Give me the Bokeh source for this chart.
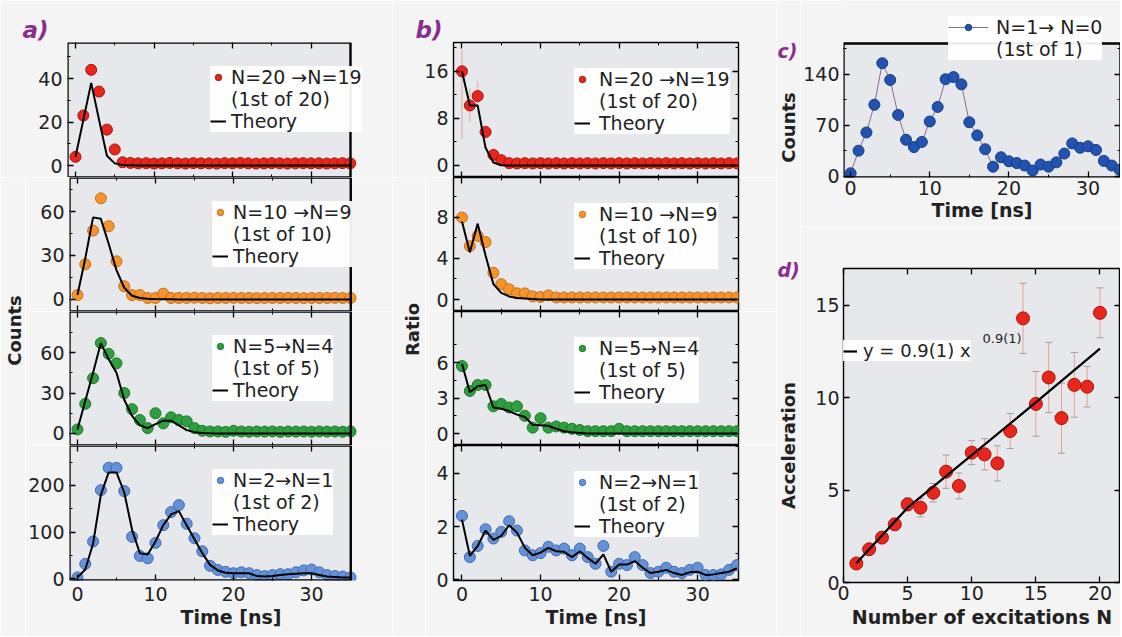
import math
from bokeh.plotting import figure
from bokeh.models import (Range1d, LinearAxis, FixedTicker, Label, Legend, LegendItem,
                          Whisker, TeeHead, ColumnDataSource, BoxAnnotation)
from bokeh.layouts import row, column
from bokeh.embed import file_html
from bokeh.resources import INLINE
from bokeh.core.properties import value

# ---------------- data ----------------
t_ns = list(range(36))

a20_counts = [4, 23, 44, 34, 16.5, 7.4, 1.5, 1.2, 1.0, 1.1, 0.9, 1.0, 1.2, 1.0, 0.9, 1.1, 1.0, 1.0,
              0.9, 1.1, 1.0, 1.2, 1.0, 0.9, 1.0, 1.1, 1.0, 0.9, 1.0, 1.1, 1.0, 1.0, 0.9, 1.0, 1.1, 1.0]
a20_theory = [4, 21, 38, 21, 4.5, 1.0, 0.2, 0.1, 0, 0, 0, 0, 0, 0, 0, 0, 0, 0,
              0, 0, 0, 0, 0, 0, 0, 0, 0, 0, 0, 0, 0, 0, 0, 0, 0, 0]
a10_counts = [3, 24, 47, 69, 50, 26, 9, 3, 3, 1, 1, 4, 1, 1, 1, 1.2, 1, 0.8,
              1, 1, 1.1, 1, 1, 0.9, 1, 1, 1, 1.1, 1, 0.9, 1, 1, 1, 1.1, 1, 1]
a10_theory = [3, 28, 56, 55, 38, 20, 8, 2.5, 1, 0.5, 0.3, 0.2, 0.1, 0, 0, 0, 0, 0,
              0, 0, 0, 0, 0, 0, 0, 0, 0, 0, 0, 0, 0, 0, 0, 0, 0, 0]
a5_counts = [3, 22, 41, 67, 59, 52, 30, 18, 10, 4, 15, 7.5, 12, 10, 9, 4, 2, 1.5,
             1.5, 1.2, 2, 1.5, 1.3, 1.5, 1.4, 1.5, 1.2, 1.5, 1.4, 1.5, 1.3, 1.5, 1.4, 1.5, 1.3, 1.5]
a5_theory = [3, 24, 45, 67, 55, 45, 25, 13, 6, 4, 7, 9.5, 9.5, 6, 2.5, 1, 0.3, 0.1,
             0, 0, 0, 0, 0, 0, 0, 0, 0, 0, 0, 0, 0, 0, 0, 0, 0, 0]
a2_counts = [3, 32, 80, 190, 238, 238, 188, 90, 49, 44, 77, 115, 143, 158, 118, 87, 59, 28,
             19, 15, 12, 14, 12, 8, 6, 8, 10, 10, 14, 18, 20, 14, 8, 6, 5, 3]
a2_theory = [3, 20, 75, 180, 228, 228, 185, 105, 55, 52, 80, 115, 138, 145, 115, 85, 55, 30,
             18, 13, 12, 12, 12, 6, 5, 6, 8, 10, 11, 12, 12, 8, 5, 4, 3, 3]

b20_ratio = [16, 10.2, 11.8, 5.7, 1.8, 0.9, 0.4, 0.35, 0.4, 0.35, 0.4, 0.35, 0.4, 0.35, 0.4, 0.35, 0.4, 0.35,
             0.4, 0.35, 0.4, 0.35, 0.4, 0.35, 0.4, 0.35, 0.4, 0.35, 0.4, 0.35, 0.4, 0.35, 0.4, 0.35, 0.4, 0.35]
b20_theory = [16, 10.2, 10.2, 3.0, 0.5, 0.05, 0, 0, 0, 0, 0, 0, 0, 0, 0, 0, 0, 0,
              0, 0, 0, 0, 0, 0, 0, 0, 0, 0, 0, 0, 0, 0, 0, 0, 0, 0]
b20_err_t = [0, 1, 2, 3]
b20_err_lo = [4.5, 7.4, 9.8, 4.8]
b20_err_hi = [19.6, 13.1, 14.3, 6.6]
b10_ratio = [8.0, 5.2, 6.2, 5.6, 2.6, 1.5, 1.0, 0.6, 0.6, 0.3, 0.25, 0.4, 0.2, 0.2, 0.2, 0.2, 0.2, 0.2,
             0.2, 0.2, 0.2, 0.2, 0.2, 0.2, 0.2, 0.2, 0.2, 0.2, 0.2, 0.2, 0.2, 0.2, 0.2, 0.2, 0.2, 0.2]
b10_theory = [7.6, 4.6, 7.4, 4.3, 1.5, 0.65, 0.3, 0.15, 0.1, 0.05, 0, 0, 0, 0, 0, 0, 0, 0,
              0, 0, 0, 0, 0, 0, 0, 0, 0, 0, 0, 0, 0, 0, 0, 0, 0, 0]
b5_ratio = [5.7, 3.6, 4.1, 4.1, 2.3, 2.5, 2.2, 2.3, 1.5, 0.5, 1.3, 0.5, 0.6, 0.5, 0.4, 0.3, 0.2, 0.2,
            0.2, 0.2, 0.4, 0.2, 0.2, 0.2, 0.2, 0.2, 0.2, 0.2, 0.2, 0.2, 0.2, 0.2, 0.2, 0.2, 0.2, 0.2]
b5_theory = [5.9, 3.5, 4.0, 4.1, 2.2, 2.1, 1.9, 1.6, 1.4, 0.75, 0.7, 0.65, 0.4, 0.2, 0.1, 0.05, 0, 0,
             0, 0, 0, 0, 0, 0, 0, 0, 0, 0, 0, 0, 0, 0, 0, 0, 0, 0]
b2_ratio = [2.4, 0.85, 1.27, 1.9, 1.55, 1.8, 2.2, 1.85, 1.1, 0.92, 1.0, 1.24, 1.1, 1.17, 0.92, 1.17, 0.85, 0.6,
            1.27, 0.3, 0.6, 0.55, 0.85, 0.55, 0.25, 0.3, 0.45, 0.3, 0.25, 0.37, 0.45, 0.18, 0.18, 0.2, 0.37, 0.55]
b2_theory = [2.26, 0.9, 1.27, 1.85, 1.5, 1.65, 2.05, 1.78, 1.2, 0.92, 1.02, 1.2, 1.07, 1.05, 0.85, 1.07, 0.82, 0.6,
             0.95, 0.3, 0.57, 0.57, 0.7, 0.45, 0.25, 0.3, 0.37, 0.25, 0.18, 0.28, 0.3, 0.18, 0.2, 0.25, 0.3, 0.43]

t_c = list(range(35))
c_counts = [4, 35, 60, 98, 155, 132, 84, 50, 40, 47, 75, 95, 133, 136, 126, 74, 56, 37,
            13, 26, 20.5, 18, 14.6, 7.8, 16, 13, 19, 31, 45, 39, 41, 36, 21, 14.6, 8.7]

d_n = list(range(1, 21))
d_acc = [1.03, 1.8, 2.43, 3.15, 4.23, 4.05, 4.86, 6.0, 5.23, 7.03, 6.94, 6.45, 8.2, 14.3, 9.67, 11.1, 8.9,
         10.7, 10.6, 14.6]
d_err = [0.1, 0.2, 0.25, 0.3, 0.35, 0.5, 0.5, 0.9, 0.7, 0.65, 0.85, 0.95, 0.95, 1.9, 1.75, 1.9, 1.9,
         1.75, 1.1, 1.35]
d_fit_n = [1, 5, 10, 15, 20]
d_fit_acc = [1.04, 4.05, 6.9, 9.75, 12.66]

time_ticks = [0, 10, 20, 30]
time_minor = [5, 15, 25]

# ---------------- style ----------------
FONT = "DejaVu Sans"
BORDER = "#f4f4f4"
PLOT_BG = "#e6e8ec"
PURPLE = "#8b2d8e"
TXT = "#222222"
RED, RED_L = "#e8261c", "#a8160e"
ORANGE, ORANGE_L = "#f5932c", "#c9701a"
GREEN, GREEN_L = "#2f9e3e", "#1e7a2c"
BLUE, BLUE_L = "#6592d6", "#3f6db6"
DBLUE, DBLUE_L = "#2353b0", "#173c86"
A_BOX_RIGHT = 35.03     # right edge of the panel-a plot area (frame extends further for legends)
C_BOX_TOP = 182         # top edge of the panel-c plot area (frame extends above for the legend)


def base_fig(w, h, bl, br, bt, bb, xr, yr, outline=True):
    p = figure(width=w, height=h, x_range=Range1d(*xr), y_range=Range1d(*yr),
               output_backend="svg", toolbar_location=None,
               min_border_left=bl, min_border_right=br, min_border_top=bt, min_border_bottom=bb,
               x_axis_type=None, y_axis_type=None,
               background_fill_color=PLOT_BG if outline else BORDER, border_fill_color=BORDER,
               outline_line_color="black" if outline else None, outline_line_width=1.4)
    return p


def add_axis(p, side, ticks, minor, labels, axis_label=None, standoff=5, label_standoff=2):
    ax = LinearAxis(ticker=FixedTicker(ticks=ticks, minor_ticks=minor))
    ax.axis_line_color = None
    ax.major_tick_in = 6
    ax.major_tick_out = 0
    ax.minor_tick_in = 3
    ax.minor_tick_out = 0
    ax.major_tick_line_color = "black"
    ax.major_tick_line_width = 1.3
    ax.minor_tick_line_color = "black"
    ax.minor_tick_line_width = 1
    ax.major_label_text_font = FONT
    ax.major_label_text_color = TXT
    if labels:
        ax.major_label_text_font_size = "19px"
        ax.major_label_standoff = standoff
    else:
        ax.major_label_text_font_size = "0px"
        ax.major_label_standoff = 0
        ax.major_label_overrides = {tk: "" for tk in ticks}
    if axis_label:
        ax.axis_label = axis_label
        ax.axis_label_text_font = FONT
        ax.axis_label_text_font_style = "bold"
        ax.axis_label_text_font_size = "19px"
        ax.axis_label_text_color = TXT
        ax.axis_label_standoff = label_standoff
    p.add_layout(ax, side)


def mids(ticks):
    step = ticks[1] - ticks[0]
    return [tk + step / 2 for tk in ticks]


def plot_area(p, **edges):
    p.add_layout(BoxAnnotation(fill_color=PLOT_BG, fill_alpha=1, line_color=None, level="underlay", **edges))
    p.add_layout(BoxAnnotation(fill_alpha=0, line_color="black", line_alpha=1, line_width=2.4, **edges))


def add_legend(p, items, loc, glyph_width=16, standoff=6, padding=5, label_width=20, size="19px"):
    lg = Legend(items=items, location=loc, orientation="vertical",
                label_text_font=FONT, label_text_font_size=size, label_text_color=TXT,
                glyph_width=glyph_width, glyph_height=16, label_standoff=standoff,
                padding=padding, spacing=0, margin=0, label_height=18, label_width=label_width,
                background_fill_color="white", background_fill_alpha=0.93, border_line_color=None)
    p.add_layout(lg)


def panel_title(p, txt, offset):
    p.title.text = txt
    p.title.align = "left"
    p.title.offset = offset
    p.title.standoff = 0
    p.title.text_font = FONT
    p.title.text_font_style = "bold italic"
    p.title.text_font_size = "23px"
    p.title.text_color = PURPLE


def strip(w, h, labels):
    p = figure(width=w, height=h, x_range=Range1d(0, 1), y_range=Range1d(0, 1),
               output_backend="svg", toolbar_location=None, min_border=0,
               x_axis_type=None, y_axis_type=None, outline_line_color=None,
               background_fill_color=BORDER, border_fill_color=BORDER)
    for txt, x, y, kind in labels:
        if kind == "axis":
            p.add_layout(Label(x=x, y=y, x_units="screen", y_units="screen", text=txt, angle=math.pi / 2,
                               text_font=FONT, text_font_style="bold", text_font_size="18px",
                               text_color=TXT, text_align="center", text_baseline="middle"))
        else:
            p.add_layout(Label(x=x, y=y, x_units="screen", y_units="screen", text=txt,
                               text_font=FONT, text_font_style="bold italic", text_font_size="19px",
                               text_color=PURPLE, text_align="left", text_baseline="middle"))
    return p


def time_panel(w, h, bl, br, bt, bb, xr, yr, yt, counts, theory, col, lcol,
               lab1, lab2, leg, bottom_labels, extended=False, errs=None,
               glyph_width=16, standoff=6, padding=8):
    p = base_fig(w, h, bl, br, bt, bb, xr, yr, outline=not extended)
    if extended:
        plot_area(p, right=A_BOX_RIGHT)
    add_axis(p, "left", yt, mids(yt), True)
    if not extended:
        add_axis(p, "right", yt, mids(yt), False)
    add_axis(p, "above", time_ticks, time_minor, False)
    if bottom_labels:
        add_axis(p, "below", time_ticks, time_minor, True, "Time [ns]", standoff=6, label_standoff=2)
    else:
        add_axis(p, "below", time_ticks, time_minor, False)
    if errs is not None:
        src = ColumnDataSource(dict(t=errs[0], lo=errs[1], hi=errs[2]))
        p.add_layout(Whisker(base="t", lower="lo", upper="hi", source=src,
                             line_color="#e9a39a", line_width=1, upper_head=None, lower_head=None))
    sc = p.scatter(t_ns, counts, size=11, fill_color=col, line_color=lcol, line_width=1)
    ln = p.line(t_ns, theory, line_color="black", line_width=2)
    add_legend(p, [LegendItem(label=value(lab1), renderers=[sc]),
                   LegendItem(label=value(lab2), renderers=[]),
                   LegendItem(label=value("Theory"), renderers=[ln])],
               leg, glyph_width=glyph_width, standoff=standoff, padding=padding)
    return p


# ---------------- panel a ----------------
AX = (-1.02, 40.38)
A1 = time_panel(392, 177, 67, 0, 42, 0, AX, (-5.5, 56.55), [0, 20, 40], a20_counts, a20_theory,
                RED, RED_L, "N=20 →N=19", "(1st of 20)", (143, 135 - 90), False, extended=True, standoff=5)
A2 = time_panel(367, 134, 42, 0, 0, 0, AX, (-8.2, 83.2), [0, 30, 60], a10_counts, a10_theory,
                ORANGE, ORANGE_L, "N=10 →N=9", "(1st of 10)", (143, 134 - 90), False, extended=True, standoff=5)
A3 = time_panel(367, 134, 42, 0, 0, 0, AX, (-8.9, 90.4), [0, 30, 60], a5_counts, a5_theory,
                GREEN, GREEN_L, "N=5→N=4", "(1st of 5)", (143, 134 - 90), False, extended=True, standoff=5)
A4 = time_panel(367, 191, 42, 0, 0, 56, AX, (-3.6, 285.7), [0, 100, 200], a2_counts, a2_theory,
                BLUE, BLUE_L, "N=2→N=1", "(1st of 2)", (143, 135 - 90), True, extended=True, standoff=5)
panel_title(A1, "a)", -45)
LA = strip(25, 459, [("Counts", 14, 306, "axis")])
col_a = column(A1, row(LA, column(A2, A3, A4)))

# ---------------- panel b ----------------
BX = (-1.08, 35.2)
B1 = time_panel(384, 177, 61, 38, 42, 0, BX, (-2.04, 20.9), [0, 8, 16], b20_ratio, b20_theory,
                RED, RED_L, "N=20 →N=19", "(1st of 20)", (121, 135 - 92), False,
                errs=(b20_err_t, b20_err_lo, b20_err_hi), standoff=9)
B2 = time_panel(351, 134, 28, 38, 0, 0, BX, (-1.17, 11.9), [0, 4, 8], b10_ratio, b10_theory,
                ORANGE, ORANGE_L, "N=10 →N=9", "(1st of 10)", (121, 134 - 92), False, standoff=9)
B3 = time_panel(351, 134, 28, 38, 0, 0, BX, (-1.01, 10.31), [0, 3, 6], b5_ratio, b5_theory,
                GREEN, GREEN_L, "N=5→N=4", "(1st of 5)", (121, 134 - 92), False, standoff=9)
B4 = time_panel(351, 191, 28, 38, 0, 56, BX, (-0.03, 5.05), [0, 2, 4], b2_ratio, b2_theory,
                BLUE, BLUE_L, "N=2→N=1", "(1st of 2)", (121, 135 - 92), True, standoff=9)
panel_title(B1, "b)", -38)
LB = strip(33, 459, [("Ratio", 20, 307, "axis")])
col_b = column(B1, row(LB, column(B2, B3, B4)))

# ---------------- panel c ----------------
C = base_fig(320, 227, 40, 0, 0, 50, (-0.9, 34.1), (-1.8, 241), outline=False)
plot_area(C, top=C_BOX_TOP)
add_axis(C, "left", [0, 70, 140], [35, 105, 175], True, standoff=4)
add_axis(C, "right", [0, 70, 140], [35, 105, 175], False)
add_axis(C, "below", time_ticks, time_minor, True, "Time [ns]", standoff=3, label_standoff=1)
c_ln = C.line(t_c, c_counts, line_color="#8f6a8c", line_width=1)
c_sc = C.scatter(t_c, c_counts, size=11, fill_color=DBLUE, line_color=DBLUE_L, line_width=1)
add_legend(C, [LegendItem(label=value("N=1→ N=0"), renderers=[c_ln, c_sc]),
               LegendItem(label=value("(1st of 1)"), renderers=[])],
           (105, 117), glyph_width=40, standoff=8, padding=4)

# ---------------- panel d ----------------
D = base_fig(320, 409, 40, 0, 41, 54, (0, 21.6), (0, 17))
add_axis(D, "left", [0, 5, 10, 15], [], True, standoff=4)
add_axis(D, "right", [0, 5, 10, 15], [], False)
add_axis(D, "above", [0, 5, 10, 15, 20], [], False)
add_axis(D, "below", [0, 5, 10, 15, 20], [], True, "Number of excitations N", standoff=3, label_standoff=3)
d_lo = [a - e for a, e in zip(d_acc, d_err)]
d_hi = [a + e for a, e in zip(d_acc, d_err)]
dsrc = ColumnDataSource(dict(n=d_n, lo=d_lo, hi=d_hi))
D.add_layout(Whisker(base="n", lower="lo", upper="hi", source=dsrc, line_color="#eda08e", line_width=1,
                     upper_head=TeeHead(size=7, line_color="#a0a0a0", line_width=1),
                     lower_head=TeeHead(size=7, line_color="#a0a0a0", line_width=1)))
D.scatter(d_n, d_acc, size=13, fill_color=RED, line_color=RED_L, line_width=1)
d_ln = D.line(d_fit_n, d_fit_acc, line_color="black", line_width=2.2)
add_legend(D, [LegendItem(label=value("y = 0.9(1) x"), renderers=[d_ln])],
           (0, 221), glyph_width=14, standoff=6, padding=4, label_width=20, size="18px")
D.add_layout(Label(x=139, y=244, x_units="screen", y_units="screen", text="0.9(1)",
                   text_font=FONT, text_font_size="13px", text_color=TXT, level="overlay",
                   text_baseline="middle", text_align="left"))

SCD = strip(24, 636, [("c)", 1, 586, "panel"), ("Counts", 12, 509, "axis"),
                      ("d)", 1, 367, "panel"), ("Acceleration", 12, 191, "axis")])
col_c = row(SCD, column(C, D))

layout = row(col_a, col_b, col_c)
open("out.html", "w").write(file_html(layout, INLINE))
